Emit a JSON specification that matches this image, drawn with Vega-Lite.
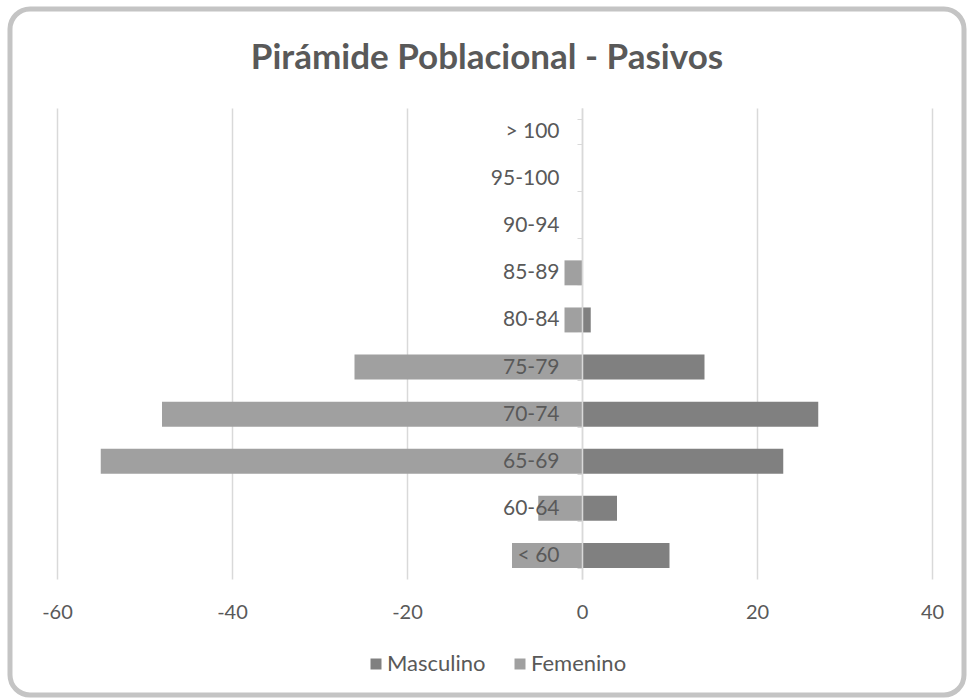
{
  "$schema": "https://vega.github.io/schema/vega-lite/v6.json",
  "width": 954,
  "height": 686,
  "padding": {"left": 10, "top": 9, "right": 4, "bottom": 5},
  "autosize": {"type": "none"},
  "background": "white",
  "title": {
    "text": "Pirámide Poblacional - Pasivos",
    "font": "Lato",
    "fontSize": 35,
    "fontWeight": "bold",
    "color": "#595959",
    "anchor": "middle",
    "offset": -78
  },
  "data": {
    "values": [
      {"edad": "> 100", "sexo": "Masculino", "valor": 0},
      {"edad": "> 100", "sexo": "Femenino", "valor": 0},
      {"edad": "95-100", "sexo": "Masculino", "valor": 0},
      {"edad": "95-100", "sexo": "Femenino", "valor": 0},
      {"edad": "90-94", "sexo": "Masculino", "valor": 0},
      {"edad": "90-94", "sexo": "Femenino", "valor": 0},
      {"edad": "85-89", "sexo": "Masculino", "valor": 0},
      {"edad": "85-89", "sexo": "Femenino", "valor": -2},
      {"edad": "80-84", "sexo": "Masculino", "valor": 1},
      {"edad": "80-84", "sexo": "Femenino", "valor": -2},
      {"edad": "75-79", "sexo": "Masculino", "valor": 14},
      {"edad": "75-79", "sexo": "Femenino", "valor": -26},
      {"edad": "70-74", "sexo": "Masculino", "valor": 27},
      {"edad": "70-74", "sexo": "Femenino", "valor": -48},
      {"edad": "65-69", "sexo": "Masculino", "valor": 23},
      {"edad": "65-69", "sexo": "Femenino", "valor": -55},
      {"edad": "60-64", "sexo": "Masculino", "valor": 4},
      {"edad": "60-64", "sexo": "Femenino", "valor": -5},
      {"edad": "< 60", "sexo": "Masculino", "valor": 10},
      {"edad": "< 60", "sexo": "Femenino", "valor": -8}
    ]
  },
  "mark": {"type": "bar"},
  "encoding": {
    "y": {
      "field": "edad",
      "type": "nominal",
      "sort": ["> 100", "95-100", "90-94", "85-89", "80-84", "75-79", "70-74", "65-69", "60-64", "< 60"],
      "scale": {"range": [99, 570], "paddingInner": 0.47, "paddingOuter": 0.235},
      "axis": {
        "orient": "left",
        "offset": -572,
        "title": null,
        "tickBand": "extent",
        "tickSize": 5,
        "tickColor": "#d9d9d9",
        "domainColor": "#d9d9d9",
        "domainWidth": 1.5,
        "labelFont": "Lato",
        "labelFontSize": 21,
        "labelColor": "#595959",
        "labelPadding": 18,
        "grid": false,
        "zindex": 1
      }
    },
    "x": {
      "field": "valor",
      "type": "quantitative",
      "stack": null,
      "scale": {"domain": [-65.371, 43.657], "nice": false, "zero": false},
      "axis": {
        "orient": "top",
        "offset": -615,
        "values": [-60, -40, -20, 0, 20, 40],
        "labelExpr": "replace(datum.label, '−', '-')",
        "title": null,
        "domain": false,
        "ticks": false,
        "tickSize": 0,
        "labelPadding": 2,
        "labelFont": "Lato",
        "labelFontSize": 20,
        "labelColor": "#595959",
        "labelFlush": false,
        "grid": true,
        "gridColor": "#d9d9d9",
        "gridWidth": 1.5
      }
    },
    "color": {
      "field": "sexo",
      "type": "nominal",
      "scale": {"domain": ["Masculino", "Femenino"], "range": ["#808080", "#a0a0a0"]},
      "legend": {
        "orient": "none",
        "legendX": 355,
        "legendY": 644,
        "direction": "horizontal",
        "title": null,
        "symbolType": "square",
        "symbolSize": 121,
        "symbolStrokeWidth": 0,
        "labelFont": "Lato",
        "labelFontSize": 22,
        "labelColor": "#595959",
        "labelOffset": 0,
        "columnPadding": 23
      }
    }
  },
  "config": {
    "view": {"stroke": "#c4c4c4", "strokeWidth": 5, "cornerRadius": 20}
  }
}
